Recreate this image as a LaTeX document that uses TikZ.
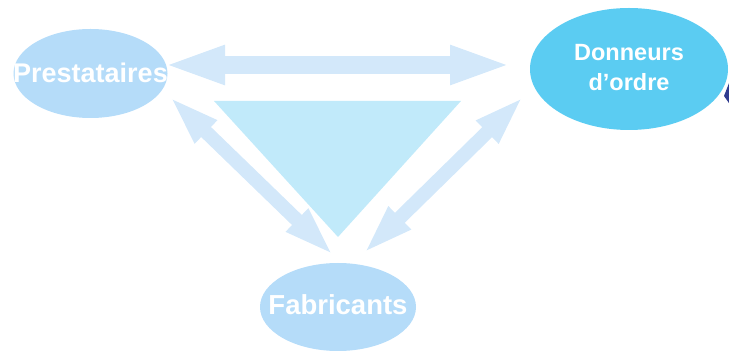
\documentclass[tikz,border=0pt]{standalone}
\usepackage{fontspec}
\setmainfont{Liberation Sans}
\usetikzlibrary{shapes.geometric,arrows.meta}
\definecolor{ellLight}{HTML}{B5DCF9}
\definecolor{ellCyan}{HTML}{5BCCF2}
\definecolor{arrowBlue}{HTML}{D3E8FA}
\definecolor{triBlue}{HTML}{C1EAFA}
\definecolor{navy}{HTML}{2F3B8F}
\begin{document}
\begin{tikzpicture}[x=1pt,y=-1pt,
  bubble/.style={ellipse,inner sep=0pt,outer sep=0pt},
  label text/.style={text=white,inner sep=0pt,align=center},
  bigarrow/.style={draw=arrowBlue,line width=18pt,shorten <=-7pt,shorten >=-7pt,
    {Triangle[width=35pt,length=62pt]}-{Triangle[width=35pt,length=62pt]}},
  diagarrow/.style={draw=arrowBlue,line width=14pt,shorten <=-6pt,shorten >=-6pt,
    {Triangle[width=28pt,length=52pt]}-{Triangle[width=28pt,length=52pt]}}]
\useasboundingbox (0,0) rectangle (729,352);
\begin{scope}
\clip (0,0) rectangle (729,352);
\fill[navy] (731,78) -- (724,96) -- (731,106) -- cycle;
\end{scope}
% triangle
\fill[triBlue] (214,101) -- (461,101) -- (338,237) -- cycle;
% arrow end points
\coordinate (hL) at (170,65);
\coordinate (hR) at (505,65);
\coordinate (lU) at (173,100);
\coordinate (lD) at (330,252);
\coordinate (rU) at (520,100);
\coordinate (rD) at (367,250);
\draw[bigarrow] (hL) -- (hR);
\draw[diagarrow] (lU) -- (lD);
\draw[diagarrow] (rU) -- (rD);
% ellipses
\node[bubble,fill=ellLight,minimum width=154pt,minimum height=89pt] (prest) at (90.5,73.5) {};
\node[bubble,fill=ellCyan,minimum width=198pt,minimum height=122pt] (donn) at (629,69) {};
\node[bubble,fill=ellLight,minimum width=156pt,minimum height=88pt] (fabr) at (338,307) {};
% texts
\node[label text,font=\bfseries\fontsize{27}{30}\selectfont] (prestT) at ([yshift=1pt]prest.center) {Prestataires};
\node[label text,font=\bfseries\fontsize{23.5}{30}\selectfont] (donnT) at ([yshift=1pt]donn.center) {Donneurs\\d’ordre};
\node[label text,font=\bfseries\fontsize{27.5}{30}\selectfont] (fabrT) at ([yshift=2pt]fabr.center) {Fabricants};
\end{tikzpicture}
\end{document}
